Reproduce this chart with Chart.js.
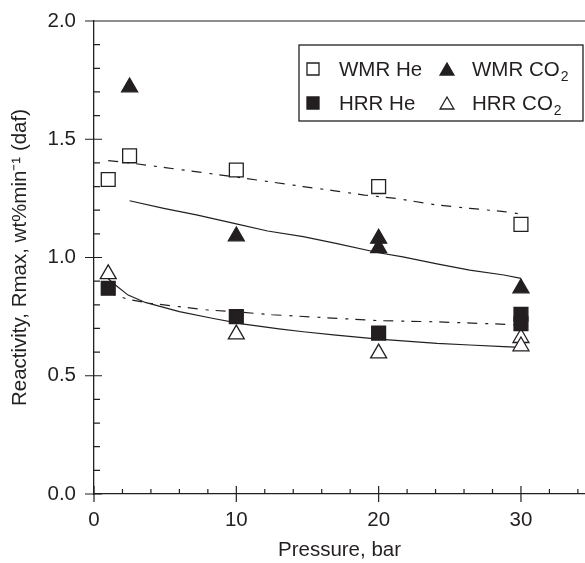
<!DOCTYPE html>
<html>
<head>
<meta charset="utf-8">
<script src="https://cdn.jsdelivr.net/npm/chart.js@4.4.0/dist/chart.umd.min.js"></script>
<style>
  html, body { margin: 0; padding: 0; background: #fff; overflow: hidden; }
  #wrap { width: 585px; height: 563px; }
</style>
</head>
<body>
<div id="wrap"><canvas id="reactivityChart" width="585" height="563"></canvas></div>
<script>
// measured reactivity (wt%/min, daf) vs pressure (bar)
const wmrHePressure = [1, 2.5, 10, 20, 30];
const wmrHeRate = [1.33, 1.43, 1.37, 1.30, 1.14];
const wmrCo2Pressure = [2.5, 10, 20, 20, 30];
const wmrCo2Rate = [1.72, 1.09, 1.08, 1.04, 0.87];
const hrrHePressure = [1, 10, 20, 30, 30];
const hrrHeRate = [0.87, 0.75, 0.68, 0.76, 0.72];
const hrrCo2Pressure = [1, 10, 20, 30, 30];
const hrrCo2Rate = [0.93, 0.675, 0.595, 0.66, 0.625];

// trend curves
const wmrHeFitPressure = [1, 2.5, 5, 10, 12.6, 14.7, 16.8, 19, 21.2, 24.1, 26.4, 28.8, 30];
const wmrHeFitRate = [1.41, 1.40, 1.38, 1.34, 1.318, 1.30, 1.283, 1.264, 1.25, 1.222, 1.208, 1.194, 1.184];
const wmrCo2FitPressure = [2.5, 4.9, 7.2, 10, 12.2, 14.7, 17, 20, 21.7, 24.1, 26.4, 28.8, 30];
const wmrCo2FitRate = [1.24, 1.208, 1.18, 1.142, 1.112, 1.088, 1.06, 1.02, 1.003, 0.973, 0.947, 0.926, 0.912];
const hrrCo2FitPressure = [1, 1.5, 2.4, 3.6, 6, 8.3, 10.4, 13, 14.7, 17, 20, 24.1, 26.4, 28.8, 30];
const hrrCo2FitRate = [0.91, 0.884, 0.841, 0.81, 0.771, 0.743, 0.719, 0.698, 0.686, 0.672, 0.655, 0.637, 0.63, 0.623, 0.62];
const hrrHeFitPressure = [1, 1.3, 2.4, 4, 6, 8, 10, 12.5, 20, 24.1, 30];
const hrrHeFitRate = [0.87, 0.845, 0.823, 0.806, 0.792, 0.778, 0.77, 0.758, 0.733, 0.728, 0.715];

const xMajorTicks = [0, 10, 20, 30];
const yTickLabels = ["0.0", "0.5", "1.0", "1.5", "2.0"];

const INK = "#231f20";
const FONT = "'Liberation Sans', Arial, Helvetica, sans-serif";
const FONT_SIZE = 20.5;

function toPoints(xs, ys) {
  return xs.map((x, i) => ({ x: x, y: ys[i] }));
}

function markerSet(label, xs, ys, style, filled) {
  return {
    label: label,
    data: toPoints(xs, ys),
    showLine: false,
    pointStyle: style,
    pointRadius: style === "rect" ? 9.8 : 9.2,
    pointBackgroundColor: filled ? INK : "#fff",
    pointBorderColor: INK,
    pointBorderWidth: 1.3,
    order: 0,
  };
}

function fitSet(xs, ys, dashed) {
  return {
    label: "",
    data: toPoints(xs, ys),
    showLine: true,
    borderColor: INK,
    borderWidth: 1.2,
    borderDash: dashed ? [10, 8, 3, 7] : [],
    pointRadius: 0,
    tension: 0,
    fill: false,
    order: 1,
  };
}

// minor / major tick marks drawn against the library scales
const axisTicks = {
  id: "axisTicks",
  afterDraw(chart) {
    const { ctx, chartArea, scales: { x, y } } = chart;
    ctx.save();
    ctx.strokeStyle = INK;
    ctx.lineWidth = 1.2;
    ctx.beginPath();
    // top frame line
    ctx.moveTo(chartArea.left - 9, chartArea.top);
    ctx.lineTo(chart.width, chartArea.top);
    for (let v = 0; v <= x.max; v += 2) {
      const px = x.getPixelForValue(v);
      if (xMajorTicks.includes(v)) {
        ctx.moveTo(px, chartArea.bottom - 8);
        ctx.lineTo(px, chartArea.bottom + 8);
      } else {
        ctx.moveTo(px, chartArea.bottom);
        ctx.lineTo(px, chartArea.bottom - 5);
      }
    }
    for (let i = 0; i <= 20; i++) {
      const py = y.getPixelForValue(i / 10);
      if (i % 5 === 0) {
        ctx.moveTo(chartArea.left - 9, py);
        ctx.lineTo(chartArea.left + 8, py);
      } else {
        ctx.moveTo(chartArea.left, py);
        ctx.lineTo(chartArea.left + 6, py);
      }
    }
    ctx.stroke();
    ctx.restore();
  }
};

// boxed 2x2 legend inside the plot
const boxLegend = {
  id: "boxLegend",
  afterDraw(chart) {
    const ctx = chart.ctx;
    const sets = chart.data.datasets;
    const items = [
      { ds: 0, col: 0, row: 0, name: "WMR He", sub: "" },
      { ds: 1, col: 1, row: 0, name: "WMR CO", sub: "2" },
      { ds: 2, col: 0, row: 1, name: "HRR He", sub: "" },
      { ds: 3, col: 1, row: 1, name: "HRR CO", sub: "2" },
    ];
    const box = { left: 299, top: 45, right: 583, bottom: 121 };
    ctx.save();
    ctx.strokeStyle = INK;
    ctx.lineWidth = 1.3;
    ctx.strokeRect(box.left, box.top, box.right - box.left, box.bottom - box.top);
    ctx.textBaseline = "middle";
    ctx.textAlign = "left";
    for (const it of items) {
      const d = sets[it.ds];
      const mx = it.col === 0 ? 313 : 447;
      const tx = it.col === 0 ? 339 : 472;
      const my = it.row === 0 ? 69 : 103;
      ctx.fillStyle = d.pointBackgroundColor;
      ctx.strokeStyle = INK;
      ctx.lineWidth = 1.3;
      Chart.helpers.drawPoint(ctx, {
        pointStyle: d.pointStyle,
        radius: d.pointStyle === "rect" ? 8.5 : 8,
        rotation: 0,
        borderWidth: 1.3,
      }, mx, my + (d.pointStyle === "triangle" ? 2 : 0));
      ctx.fillStyle = INK;
      ctx.font = "20.5px " + FONT;
      ctx.fillText(it.name, tx, my + 1);
      if (it.sub) {
        const w = ctx.measureText(it.name).width;
        ctx.font = "14px " + FONT;
        ctx.fillText(it.sub, tx + w + 1, my + 8);
      }
    }
    ctx.restore();
  }
};

const ctx = document.getElementById("reactivityChart").getContext("2d");

new Chart(ctx, {
  type: "scatter",
  data: {
    datasets: [
      markerSet("WMR He", wmrHePressure, wmrHeRate, "rect", false),
      markerSet("WMR CO2", wmrCo2Pressure, wmrCo2Rate, "triangle", true),
      markerSet("HRR He", hrrHePressure, hrrHeRate, "rect", true),
      markerSet("HRR CO2", hrrCo2Pressure, hrrCo2Rate, "triangle", false),
      fitSet(wmrHeFitPressure, wmrHeFitRate, true),
      fitSet(wmrCo2FitPressure, wmrCo2FitRate, false),
      fitSet(hrrHeFitPressure, hrrHeFitRate, true),
      fitSet(hrrCo2FitPressure, hrrCo2FitRate, false),
    ],
  },
  options: {
    responsive: false,
    animation: false,
    layout: { autoPadding: false, padding: { top: 21, right: 0, left: 0, bottom: 0 } },
    plugins: {
      legend: { display: false },
      tooltip: { enabled: false },
    },
    scales: {
      x: {
        type: "linear",
        min: 0,
        max: 34.5,
        afterFit(scale) {
          scale.height = 69;
          scale.paddingLeft = 0;
          scale.paddingRight = 0;
        },
        grid: { display: false, drawTicks: false },
        border: { display: true, color: INK, width: 1.3 },
        ticks: {
          stepSize: 10,
          includeBounds: false,
          padding: 14,
          color: INK,
          font: { size: FONT_SIZE, family: FONT },
          callback: (v) => (xMajorTicks.includes(v) ? String(v) : ""),
        },
        title: {
          display: true,
          text: "Pressure, bar",
          color: INK,
          font: { size: FONT_SIZE, family: FONT },
          padding: { top: 0, bottom: 0 },
        },
      },
      y: {
        type: "linear",
        min: 0,
        max: 2,
        afterFit(scale) {
          scale.width = 94;
          scale.paddingTop = 0;
          scale.paddingBottom = 0;
        },
        grid: { display: false, drawTicks: false },
        border: { display: true, color: INK, width: 1.3 },
        ticks: {
          stepSize: 0.5,
          padding: 18,
          color: INK,
          font: { size: FONT_SIZE, family: FONT },
          callback: (v) => yTickLabels[Math.round(v * 2)],
        },
        title: {
          display: true,
          text: "Reactivity, Rmax, wt%min\u207B\u00B9 (daf)",
          color: INK,
          font: { size: FONT_SIZE, family: FONT },
          padding: { top: 8, bottom: 0 },
        },
      },
    },
  },
  plugins: [axisTicks, boxLegend],
});
</script>
</body>
</html>
